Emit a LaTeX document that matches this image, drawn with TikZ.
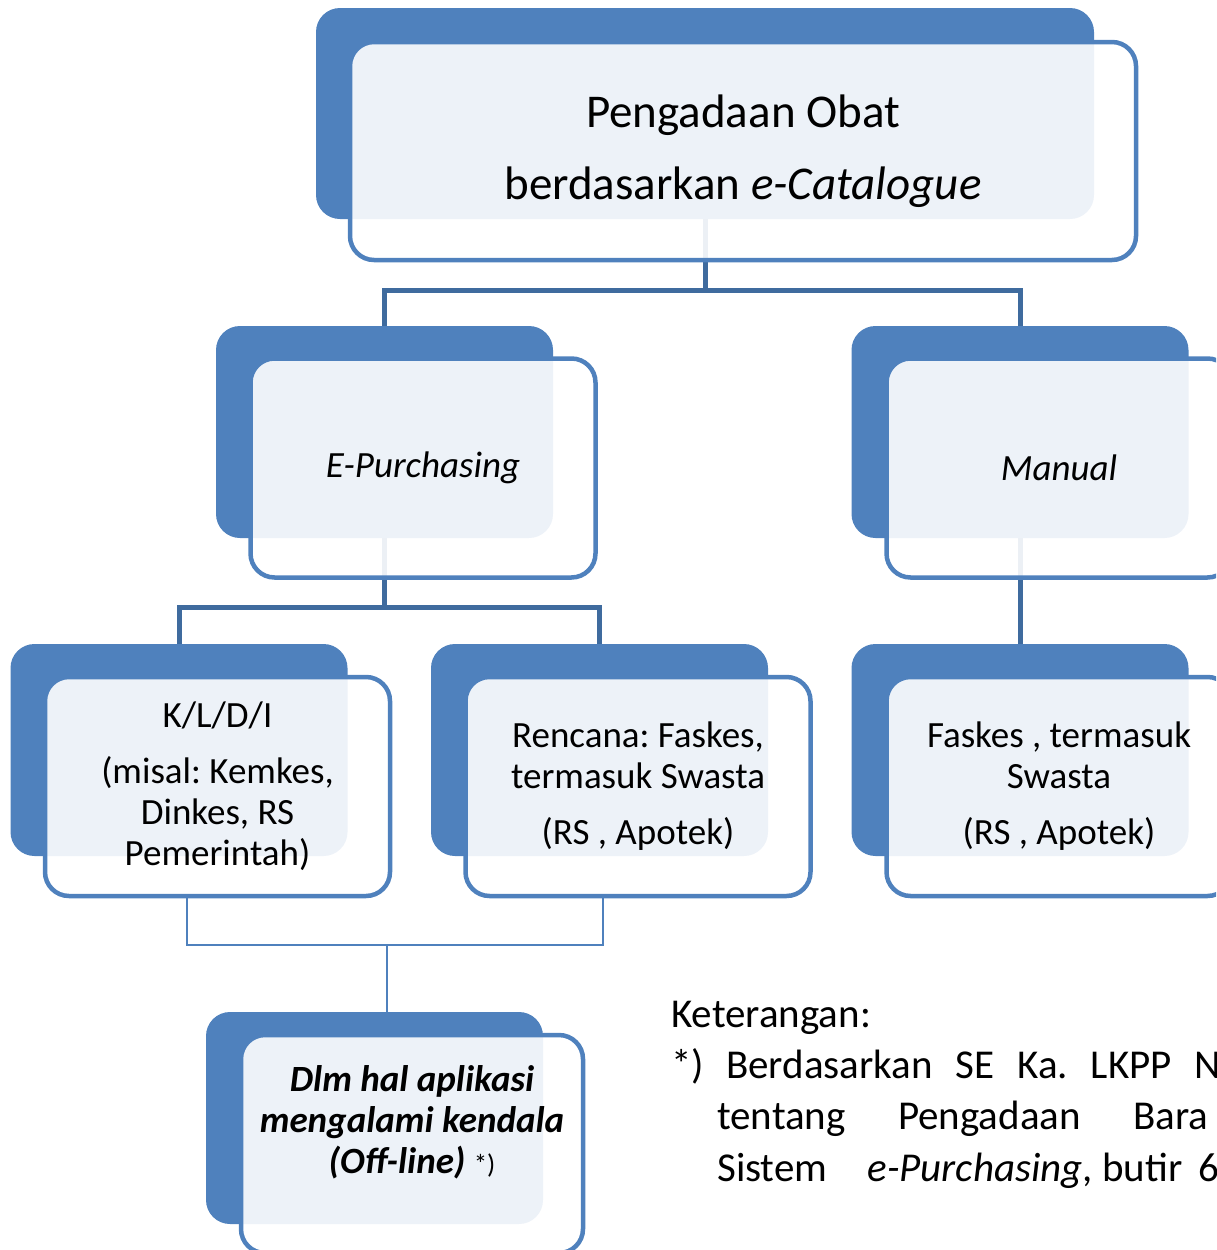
\documentclass[tikz,border=0pt]{standalone}
\usepackage{fontspec}
\setmainfont{Carlito}
\usetikzlibrary{calc}
\definecolor{boxblue}{HTML}{4F81BD}
\definecolor{linkblue}{HTML}{3F6B9E}
\frenchspacing

\tikzset{
  backbox/.style={fill=boxblue, rounded corners=24pt, minimum width=337pt, minimum height=212pt, inner sep=0pt},
  frontbox/.style={draw=boxblue, line width=4.5pt, fill=white, fill opacity=0.9, text opacity=1,
    rounded corners=24pt, minimum width=345pt, minimum height=219pt, inner sep=0pt, align=center,
    font=\fontsize{37}{41}\selectfont},
  link/.style={draw=linkblue, line width=5pt},
  thinlink/.style={draw=boxblue, line width=1.8pt},
  note/.style={inner sep=0pt, anchor=base west, font=\fontsize{41}{51}\selectfont}
}

\begin{document}
\begin{tikzpicture}[x=1pt, y=-1pt]
  \useasboundingbox (0,0) rectangle (1216,1250);
  \clip (0,0) rectangle (1216,1250);
  % back panels
  \node[backbox, minimum width=778pt, minimum height=211pt] (topb) at (705,113.5) {};
  \node[backbox] (epb) at (384.5,432) {};
  \node[backbox] (manb) at (1020,432) {};
  \node[backbox] (kldib) at (179,750) {};
  \node[backbox] (renb) at (599.5,750) {};
  \node[backbox] (fasb) at (1020,750) {};
  \node[backbox] (dlmb) at (374.5,1118) {};
  % tree connectors
  \coordinate (bus1) at (705,290);
  \coordinate (bus2) at (384.5,607);
  \draw[link] (topb.south) -- (bus1) -| (epb.north);
  \draw[link] (bus1) -| (manb.north);
  \draw[link] (epb.south) -- (bus2) -| (kldib.north);
  \draw[link] (bus2) -| (renb.north);
  \draw[link] (manb.south) -- (fasb.north);
  % front panels
  \node[frontbox, minimum width=786pt, minimum height=218pt, font=\fontsize{47}{72}\selectfont] (topf) at (743,151)
    {Pengadaan Obat\\berdasarkan \textit{e-Catalogue}};
  \node[frontbox] (epf) at (423,468) {\textit{E-Purchasing}};
  \node[frontbox] (manf) at (1059,468) {\textit{Manual}};
  \node[frontbox] (kldif) at (217.5,786.5) {K/L/D/I\\[15pt](misal: Kemkes,\\Dinkes, RS\\Pemerintah)};
  \node[frontbox] (renf) at (638,786.5) {Rencana: Faskes,\\termasuk Swasta\\[15pt](RS , Apotek)};
  \node[frontbox] (fasf) at (1059,786.5) {Faskes , termasuk\\Swasta\\[15pt](RS , Apotek)};
  \node[frontbox, minimum width=342pt, minimum height=218pt] (dlmf) at (412,1144) {};
  \node[align=center, inner sep=0pt, font=\fontsize{37}{41}\selectfont\bfseries\itshape] (dlmtxt) at ([yshift=22pt]dlmf.center)
    {Dlm hal aplikasi\\mengalami kendala\\(Off-line) {\normalfont\fontsize{27}{41}\selectfont *)}};
  % offline link
  \coordinate (bus3) at (387,945);
  \draw[thinlink] ([xshift=-30.5pt]kldif.south) |- (bus3) -| ([xshift=-35pt]renf.south);
  \draw[thinlink] (bus3) -- (bus3 |- dlmb.north);
  % keterangan
  \node[note] (ket) at (671,1027) {Keterangan:};
  \node[note] (ast) at (671,1078) {*)};
  \node[note] (ketA) at (726,1078) {\makebox[495pt][s]{Berdasarkan SE Ka. LKPP N}};
  \node[note] (ketB) at (717,1129) {\makebox[491pt][s]{tentang Pengadaan Bara}};
  \node[note] (ketC) at (717,1181) {Sistem\hspace{40pt}\textit{e-Purchasing}, butir\hspace{16pt}6};
\end{tikzpicture}
\end{document}
